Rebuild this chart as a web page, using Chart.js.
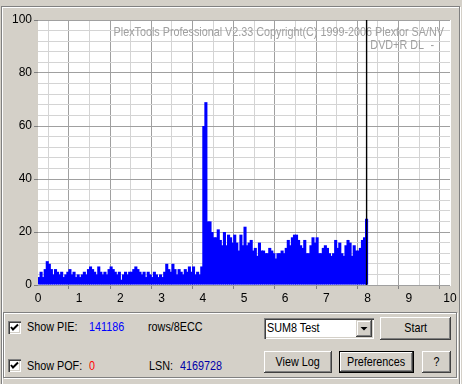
<!DOCTYPE html>
<html><head><meta charset="utf-8">
<script src="https://cdn.jsdelivr.net/npm/chart.js@4.4.1/dist/chart.umd.min.js"></script>
<style>
html,body{margin:0;padding:0;}
body{width:462px;height:384px;background:#d4d0c8;overflow:hidden;position:relative;
 font-family:'Liberation Sans',Arial,sans-serif;font-size:13px;color:#000;}
.frame{position:absolute;left:1px;top:6px;width:457px;height:380px;border:1px solid #808080;box-shadow:inset 1px 1px 0 #fff,1px 1px 0 #fff;}
.panel{position:absolute;left:3px;top:312px;width:452px;height:64px;border:1px solid #808080;box-shadow:inset 1px 1px 0 #fff,1px 1px 0 #fff;}
#cv{position:absolute;left:0;top:0;}
.txt{position:absolute;line-height:16px;white-space:nowrap;transform:scaleX(0.83);transform-origin:0 50%;}
.cb{position:absolute;width:13px;height:13px;background:#fff;box-sizing:border-box;
 box-shadow:inset 1px 1px 0 #808080,inset 2px 2px 0 #404040,inset -1px -1px 0 #fff,inset -2px -2px 0 #d4d0c8;}
.cb svg{position:absolute;left:0;top:0;}
.btn{position:absolute;box-sizing:border-box;background:#d4d0c8;text-align:center;white-space:nowrap;
 box-shadow:inset -1px -1px 0 #404040,inset 1px 1px 0 #fff,inset -2px -2px 0 #808080,inset 2px 2px 0 #d4d0c8;}
.btn span{display:inline-block;transform:scaleX(0.83);transform-origin:50% 50%;}
.btn.def{border:1px solid #000;}
.combo{position:absolute;box-sizing:border-box;background:#fff;
 box-shadow:inset 1px 1px 0 #808080,inset 2px 2px 0 #404040,inset -1px -1px 0 #fff,inset -2px -2px 0 #d4d0c8;}
.combo .arrow{position:absolute;right:2px;top:2px;width:16px;height:17px;box-sizing:border-box;background:#d4d0c8;
 box-shadow:inset -1px -1px 0 #404040,inset 1px 1px 0 #d4d0c8,inset -2px -2px 0 #808080,inset 2px 2px 0 #fff;}
</style></head><body>
<div class="frame"></div>
<canvas id="cv" width="462" height="310"></canvas>
<div class="panel"></div>

<div class="cb" style="left:8px;top:321px"><svg width="13" height="13"><polyline points="3,6 5,8.5 10,3.5" fill="none" stroke="#000" stroke-width="2"/></svg></div>
<div class="txt" style="left:27px;top:319px">Show PIE:</div>
<div class="txt" style="left:89px;top:319px;color:#0000ff">141186</div>
<div class="txt" style="left:148px;top:319px">rows/8ECC</div>

<div class="cb" style="left:8px;top:359px"><svg width="13" height="13"><polyline points="3,6 5,8.5 10,3.5" fill="none" stroke="#000" stroke-width="2"/></svg></div>
<div class="txt" style="left:27px;top:358px">Show POF:</div>
<div class="txt" style="left:89px;top:358px;color:#ff0000">0</div>
<div class="txt" style="left:149px;top:358px">LSN:</div>
<div class="txt" style="left:180px;top:358px;color:#0000a8">4169728</div>

<div class="combo" style="left:264px;top:318px;width:110px;height:21px">
 <div class="txt" style="left:3px;top:2px">SUM8 Test</div>
 <div class="arrow"><svg width="16" height="17" style="position:absolute;left:0;top:0"><polygon points="4.5,7 11.5,7 8,10.5" fill="#000"/></svg></div>
</div>
<div class="btn" style="left:380px;top:317px;width:71px;height:23px;line-height:22px"><span>Start</span></div>
<div class="btn" style="left:264px;top:351px;width:68px;height:22px;line-height:21px"><span>View Log</span></div>
<div class="btn def" style="left:339px;top:351px;width:75px;height:22px;line-height:19px"><span>Preferences</span></div>
<div class="btn" style="left:422px;top:351px;width:29px;height:22px;line-height:21px"><span>?</span></div>

<script>
// PIE sums (rows/8ECC), one array per 1 GB of disc, bins of 0.05
const pie_0_1 = [3,5,3,6,9,8,6,4,6,5,4,5,3,4,5,6,4,5,3,4];
const pie_1_2 = [3,4,5,4,6,7,6,5,4,7,5,4,5,4,6,7,6,5,4,5];
const pie_2_3 = [2,4,5,4,5,5,6,7,6,5,4,5,3,5,4,3,5,4,3,4];
const pie_3_4 = [3,5,8,6,5,8,6,4,6,5,4,6,5,7,5,7,4,5,4,7];
const pie_4_5 = [60,69,24,24,20,18,18,21,17,15,20,15,19,18,16,19,16,13,19,15];
const pie_5_6 = [22,15,16,17,13,14,11,16,13,13,12,12,14,13,12,10,12,12,13,12];
const pie_6_7 = [14,17,15,18,19,19,17,15,14,17,12,12,15,18,16,18,12,12,14,15];
const pie_7_8 = [14,12,11,12,17,14,16,12,11,15,17,16,11,15,13,13,14,17,18,25];
const binWidth = 0.05;
const xTickLabels = [0,1,2,3,4,5,6,7,8,9,10];
const yTickLabels = [0,20,40,60,80,100];
const cursorPosition = 8;
const watermark1 = 'PlexTools Professional V2.33 Copyright(C) 1999-2006 Plextor SA/NV';
const watermark2 = 'DVD+R DL';
const watermark3 = '-';

const values = [].concat(pie_0_1,pie_1_2,pie_2_3,pie_3_4,pie_4_5,pie_5_6,pie_6_7,pie_7_8);
const points = values.map((v,i)=>({x:(i+0.5)*binWidth, y:v}));

const FONT = "'Liberation Sans',Arial,sans-serif";
const isMajor = (arr,v)=> arr.some(a=>Math.abs(a-v)<1e-9);
const tickVal = (c)=> (c && c.tick) ? c.tick.value : NaN;

function drawCondensed(ctx, text, xRight, y, sx){
  ctx.save();
  ctx.translate(xRight, y);
  ctx.scale(sx, 1);
  ctx.fillText(text, 0, 0);
  ctx.restore();
}

const bgPlugin = {
  id:'bg',
  beforeDraw(chart){
    const {ctx, chartArea:a} = chart;
    ctx.save(); ctx.fillStyle='#fff';
    ctx.fillRect(a.left, a.top, a.right-a.left+1, a.bottom-a.top+1);
    ctx.restore();
  },
  beforeDatasetsDraw(chart){
    const {ctx, chartArea:a} = chart;
    ctx.save();
    ctx.fillStyle='#a0a0a0';
    ctx.font = "13px "+FONT;
    ctx.textBaseline='middle';
    ctx.textAlign='right';
    drawCondensed(ctx, watermark1, a.right-6, a.top+12, 0.83);
    drawCondensed(ctx, watermark2, a.right-26, a.top+25, 0.83);
    drawCondensed(ctx, watermark3, a.right-16, a.top+25, 0.83);
    ctx.restore();
  },
  afterDatasetsDraw(chart){
    const {ctx, chartArea:a, scales} = chart;
    const px = scales.x.getPixelForValue(cursorPosition);
    ctx.save();
    ctx.strokeStyle='#000'; ctx.lineWidth=1.4;
    ctx.beginPath(); ctx.moveTo(px-1, a.top); ctx.lineTo(px-1, a.bottom); ctx.stroke();
    ctx.restore();
  }
};

new Chart(document.getElementById('cv'), {
  type:'bar',
  data:{datasets:[{data:points, backgroundColor:'#0000ff', borderWidth:0, inflateAmount:0,
    barPercentage:1.5, categoryPercentage:1, grouped:false}]},
  options:{
    responsive:false, animation:false, devicePixelRatio:1,
    layout:{padding:{left:0, top:20, right:12, bottom:0}},
    plugins:{legend:{display:false}, tooltip:{enabled:false}},
    scales:{
      x:{type:'linear', min:0, max:10, offset:false,
        ticks:{stepSize:0.5, autoSkip:false, maxRotation:0, padding:2, color:'#000',
          font:{family:FONT, size:12},
          callback:(v)=> isMajor(xTickLabels,v) ? String(v) : ''},
        grid:{color:(c)=> isMajor(xTickLabels,tickVal(c)) ? '#a0a0a0' : '#d4d4d4',
          tickColor:(c)=> isMajor(xTickLabels,tickVal(c)) ? '#808080' : 'rgba(0,0,0,0)',
          tickLength:4, lineWidth:1},
        border:{display:false},
        afterFit:(s)=>{s.height=25;}
      },
      y:{min:0, max:100,
        ticks:{stepSize:4, autoSkip:false, padding:2, color:'#000',
          font:{family:FONT, size:12},
          callback:(v)=> isMajor(yTickLabels,v) ? String(v) : ''},
        grid:{color:(c)=> isMajor(yTickLabels,tickVal(c)) ? '#a0a0a0' : '#d4d4d4',
          tickColor:(c)=> isMajor(yTickLabels,tickVal(c)) ? '#808080' : 'rgba(0,0,0,0)',
          tickLength:4, lineWidth:1},
        border:{display:false},
        afterFit:(s)=>{s.width=38;}
      }
    }
  },
  plugins:[bgPlugin]
});
</script>
</body></html>
